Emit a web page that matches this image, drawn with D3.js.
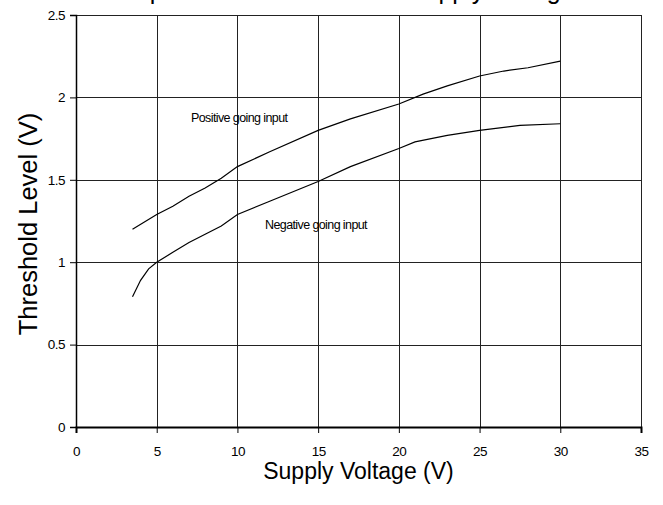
<!DOCTYPE html>
<html lang="en">
<head>
<meta charset="utf-8">
<title>Threshold Level vs Supply Voltage</title>
<script src="https://d3js.org/d3.v7.min.js"></script>
<style>
  body { margin: 0; background: #fff; }
  text { font-family: "Liberation Sans", Arial, sans-serif; fill: #000; }
</style>
</head>
<body>
<script>
// data
var posVolts = [3.5, 5, 6, 7, 8, 9, 10, 12, 15, 17, 20, 21.5, 23, 25, 26.5, 28, 30];
var posLevel = [1.20, 1.29, 1.34, 1.40, 1.45, 1.51, 1.58, 1.67, 1.80, 1.87, 1.96, 2.02, 2.07, 2.13, 2.16, 2.18, 2.22];
var negVolts = [3.5, 4, 4.5, 5, 6, 7, 8, 9, 10, 12, 15, 17, 20, 21, 23, 25, 27.5, 30];
var negLevel = [0.79, 0.89, 0.96, 1.00, 1.06, 1.12, 1.17, 1.22, 1.29, 1.37, 1.49, 1.58, 1.69, 1.73, 1.77, 1.80, 1.83, 1.84];
var xTicks = [0, 5, 10, 15, 20, 25, 30, 35];
var yTicks = [0, 0.5, 1, 1.5, 2, 2.5];

var w = 663, h = 505;
var margin = {top: 15, right: 22, bottom: 78, left: 76};

var svg = d3.select("body").append("svg")
    .attr("width", w)
    .attr("height", h);

var x = d3.scaleLinear().domain([0, 35]).range([margin.left, w - margin.right]);
var y = d3.scaleLinear().domain([0, 2.5]).range([h - margin.bottom, margin.top]);

// grid
svg.append("g")
    .selectAll("line.v")
    .data(xTicks.slice(1))
    .enter().append("line")
    .attr("x1", function(d) { return Math.round(x(d)) + 0.5; })
    .attr("x2", function(d) { return Math.round(x(d)) + 0.5; })
    .attr("y1", y(0))
    .attr("y2", y(2.5))
    .attr("stroke", "#222")
    .attr("stroke-width", 1);

svg.append("g")
    .selectAll("line.h")
    .data(yTicks.slice(1))
    .enter().append("line")
    .attr("x1", x(0))
    .attr("x2", x(35))
    .attr("y1", function(d) { return Math.round(y(d)) + 0.5; })
    .attr("y2", function(d) { return Math.round(y(d)) + 0.5; })
    .attr("stroke", "#222")
    .attr("stroke-width", 1);

// axes
var xAxis = svg.append("g")
    .attr("transform", "translate(0," + y(0) + ")")
    .call(d3.axisBottom(x).tickValues(xTicks).tickSize(6).tickPadding(13).tickFormat(d3.format("d")));
xAxis.select(".domain").attr("stroke-width", 2);
xAxis.selectAll("text").style("font-size", "13.5px").style("letter-spacing", "-0.5px");

var yAxis = svg.append("g")
    .attr("transform", "translate(" + x(0) + ",0)")
    .call(d3.axisLeft(y).tickValues(yTicks).tickSize(6).tickPadding(5).tickFormat(function(d) { return String(d); }));
yAxis.select(".domain").attr("stroke-width", 1.5);
yAxis.selectAll("text").style("font-size", "13.5px").style("letter-spacing", "-0.5px");

// curves
var line = d3.line()
    .x(function(d) { return x(d[0]); })
    .y(function(d) { return y(d[1]); });

svg.append("path")
    .datum(d3.zip(posVolts, posLevel))
    .attr("d", line)
    .attr("fill", "none")
    .attr("stroke", "#000")
    .attr("stroke-width", 1.2);

svg.append("path")
    .datum(d3.zip(negVolts, negLevel))
    .attr("d", line)
    .attr("fill", "none")
    .attr("stroke", "#000")
    .attr("stroke-width", 1.2);

// annotations
svg.append("text")
    .attr("x", 191).attr("y", 122)
    .style("font-size", "12.5px")
    .style("letter-spacing", "-0.6px")
    .text("Positive going input");

svg.append("text")
    .attr("x", 265).attr("y", 229)
    .style("font-size", "12.5px")
    .style("letter-spacing", "-0.6px")
    .text("Negative going input");

// title, cut off at the top
svg.append("text")
    .attr("x", 129).attr("y", -1)
    .style("font-size", "25px")
    .text("Input Threshold Level vs Supply Voltage");

// axis titles
svg.append("text")
    .attr("x", (x(0) + x(35)) / 2).attr("y", 479)
    .attr("text-anchor", "middle")
    .style("font-size", "23px")
    .text("Supply Voltage (V)");

svg.append("text")
    .attr("transform", "translate(37," + 224 + ") rotate(-90)")
    .attr("text-anchor", "middle")
    .style("font-size", "25.5px")
    .text("Threshold Level (V)");
</script>
</body>
</html>
